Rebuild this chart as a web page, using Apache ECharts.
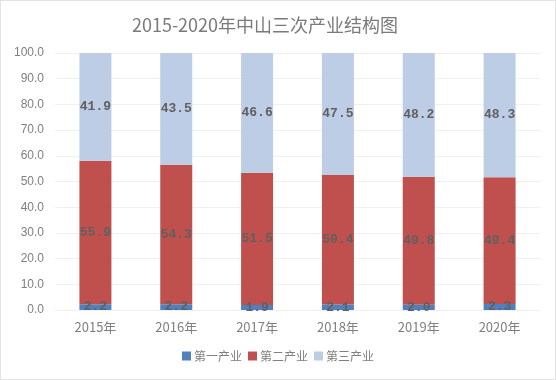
<!DOCTYPE html>
<html><head><meta charset="utf-8">
<script src="https://cdn.jsdelivr.net/npm/echarts@6/dist/echarts.min.js"></script>
<style>html,body{margin:0;padding:0;background:#fff}#c{width:554px;height:378px;border:1px solid #e3e3e3}</style>
</head><body><div id="c"></div>
<script>
const categories = ['2015年','2016年','2017年','2018年','2019年','2020年'];
const primary = [2.2, 2.2, 1.9, 2.1, 2.0, 2.3];
const secondary = [55.9, 54.3, 51.5, 50.4, 49.8, 49.4];
const tertiary = [41.9, 43.5, 46.6, 47.5, 48.2, 48.3];
const seriesNames = ['第一产业','第二产业','第三产业'];

const chart = echarts.init(document.getElementById('c'));
const labelStyle = {show:true, position:'inside', color:'#606060', fontFamily:'Liberation Mono, DejaVu Sans Mono, monospace', fontWeight:'bold', fontSize:13, formatter:p=>p.value.toFixed(1)};
chart.setOption({
  animation:false,
  title:{text:'2015-2020年中山三次产业结构图', left:259, textAlign:'center', top:10,
    textStyle:{color:'#7a7a7a', fontSize:18, fontWeight:'normal', fontFamily:'Noto Sans CJK SC, sans-serif'}},
  legend:{bottom:12, left:'center', itemWidth:9, itemHeight:9, itemGap:6, icon:'rect',
    textStyle:{color:'#7f7f7f', fontSize:12, fontFamily:'Noto Sans CJK SC, sans-serif', padding:[0,0,0,-2]}},
  grid:{left:54, right:15, top:52, bottom:69},
  xAxis:{type:'category', data:categories, axisTick:{show:false},
    axisLine:{lineStyle:{color:'#f0f0f0'}},
    axisLabel:{color:'#7f7f7f', fontSize:13, margin:11, fontFamily:'Noto Sans CJK SC, sans-serif'}},
  yAxis:{type:'value', min:0, max:100, interval:10,
    axisLabel:{color:'#7f7f7f', fontSize:12, margin:11, formatter:v=>v.toFixed(1), fontFamily:'Liberation Sans, sans-serif'},
    splitLine:{lineStyle:{color:'#f0f0f0'}}},
  series:[
    {name:seriesNames[0], type:'bar', stack:'a', data:primary, barWidth:32, itemStyle:{color:'#4f81bd'}, label:labelStyle},
    {name:seriesNames[1], type:'bar', stack:'a', data:secondary, itemStyle:{color:'#c0504d'}, label:labelStyle},
    {name:seriesNames[2], type:'bar', stack:'a', data:tertiary, itemStyle:{color:'#bccde5'}, label:labelStyle}
  ]
});
</script></body></html>
